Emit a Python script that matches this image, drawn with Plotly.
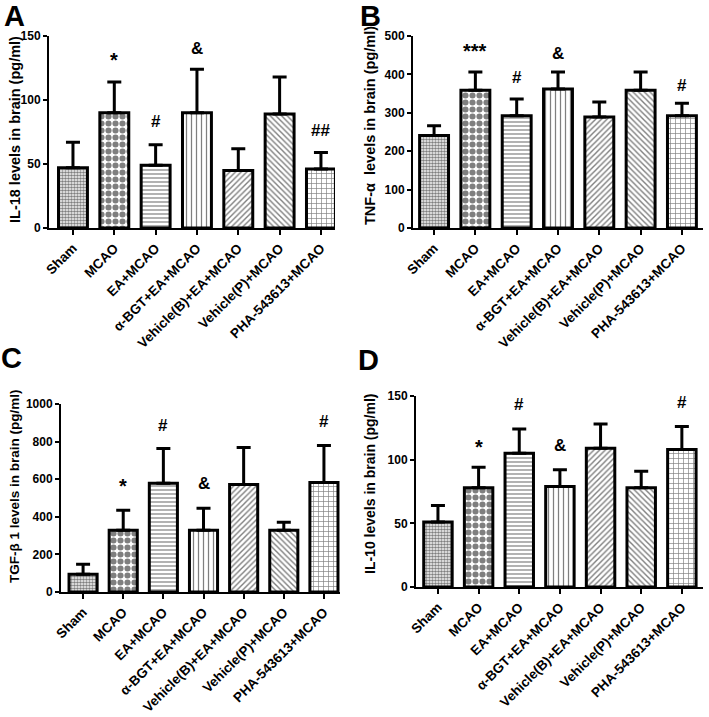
import plotly.graph_objects as go

groups = ["Sham", "MCAO", "EA+MCAO", "α-BGT+EA+MCAO", "Vehicle(B)+EA+MCAO",
          "Vehicle(P)+MCAO", "PHA-543613+MCAO"]

# mean and SD per group
il18_mean = [47, 90, 49, 90, 45, 89, 46]
il18_sd = [20, 24, 16, 34, 17, 29, 13]
tnf_mean = [241, 359, 292, 362, 289, 359, 292]
tnf_sd = [25, 47, 44, 44, 39, 47, 33]
tgf_mean = [95, 329, 578, 329, 572, 329, 583]
tgf_sd = [53, 106, 185, 116, 196, 42, 196]
il10_mean = [51, 78, 105, 79, 109, 78, 108]
il10_sd = [13, 16, 19, 13, 19, 13, 18]

# significance marks: (group index, label, y)
il18_marks = [(1, "*", 131), (2, "#", 83), (3, "&", 140), (6, "##", 76)]
tnf_marks = [(1, "***", 461), (2, "#", 393), (3, "&", 455), (6, "#", 372)]
tgf_marks = [(1, "*", 562), (2, "#", 885), (3, "&", 578), (6, "#", 906)]
il10_marks = [(1, "*", 110), (2, "#", 143), (3, "&", 111), (6, "#", 145)]

# pattern per group (shape, size, solidity)
patterns = [(".", 3, 0.6), (".", 7, 0.6), ("-", 4, 0.3), ("|", 5, 0.25),
            ("/", 4, 0.35), ("\\", 4, 0.35), ("+", 5, 0.25)]

W, H = 709, 717
FONT = "Liberation Sans"


def b(s):
    return "<b>" + str(s) + "</b>"


def px(x):
    return x / W


def py(y):
    return 1 - y / H


panels = [
    dict(letter="A", mean=il18_mean, sd=il18_sd, marks=il18_marks,
         title="IL-18 levels in brain (pg/ml)", tsize=14.5, ymax=150, dtick=50,
         xdom=(49, 335), ydom=(36, 228), xr=(-0.58, 6.34), tx=15, ty=130,
         lx=14, ly=16),
    dict(letter="B", mean=tnf_mean, sd=tnf_sd, marks=tnf_marks,
         title="TNF-α  levels in brain (pg/ml)", tsize=14.5, ymax=500, dtick=100,
         xdom=(413, 703), ydom=(36, 228), xr=(-0.51, 6.51), tx=370, ty=126,
         lx=370, ly=16),
    dict(letter="C", mean=tgf_mean, sd=tgf_sd, marks=tgf_marks,
         title="TGF-β 1 levels in brain (pg/ml)", tsize=13.5, ymax=1000, dtick=200,
         xdom=(61, 340), ydom=(404, 592), xr=(-0.55, 6.4), tx=14, ty=486,
         lx=11, ly=358),
    dict(letter="D", mean=il10_mean, sd=il10_sd, marks=il10_marks,
         title="IL-10 levels in brain (pg/ml)", tsize=14, ymax=150, dtick=50,
         xdom=(416, 703), ydom=(396, 587), xr=(-0.54, 6.52), tx=370, ty=484,
         lx=368, ly=360),
]

fig = go.Figure()
annotations = []
layout = {}

for i, p in enumerate(panels):
    n = "" if i == 0 else str(i + 1)
    xa, ya = "x" + n, "y" + n
    for j, g in enumerate(groups):
        shape, size, sol = patterns[j]
        fig.add_trace(go.Bar(
            x=[g], y=[p["mean"][j]],
            xaxis=xa, yaxis=ya,
            width=0.7,
            marker=dict(color="white",
                        line=dict(color="black", width=3),
                        pattern=dict(shape=shape, size=size, solidity=sol,
                                     fgcolor="black", bgcolor="white",
                                     fillmode="overlay")),
            error_y=dict(type="data", array=[p["sd"][j]], arrayminus=[0],
                         symmetric=False, color="black", thickness=3, width=7),
            showlegend=False,
        ))
    yticks = list(range(0, p["ymax"] + 1, p["dtick"]))
    layout["xaxis" + n] = dict(
        domain=[px(p["xdom"][0]), px(p["xdom"][1])],
        anchor=ya, type="category", range=list(p["xr"]), automargin=False,
        tickvals=groups, ticktext=[b(g) for g in groups],
        showline=True, linecolor="black", linewidth=2,
        ticks="outside", ticklen=5, tickwidth=2, tickcolor="black",
        tickangle=-45, showgrid=False,
        tickfont=dict(family=FONT, size=13.5, color="black"),
    )
    layout["yaxis" + n] = dict(
        domain=[py(p["ydom"][1]), py(p["ydom"][0])],
        anchor=xa, range=[0, p["ymax"]], automargin=False,
        tickvals=yticks, ticktext=[b(v) for v in yticks],
        showline=True, linecolor="black", linewidth=2,
        ticks="outside", ticklen=4, tickwidth=2, tickcolor="black",
        showgrid=False, zeroline=False,
        tickfont=dict(family=FONT, size=12, color="black"),
    )
    for k, lab, yv in p["marks"]:
        size = 20 if lab.startswith("*") else 17
        annotations.append(dict(
            x=groups[k], y=yv, xref=xa, yref=ya, text=b(lab), showarrow=False,
            font=dict(family=FONT, size=size, color="black")))
    annotations.append(dict(
        x=px(p["tx"]), y=py(p["ty"]), xref="paper", yref="paper",
        text=b(p["title"]), textangle=-90, showarrow=False,
        xanchor="center", yanchor="middle",
        font=dict(family=FONT, size=p["tsize"], color="black")))
    annotations.append(dict(
        x=px(p["lx"]), y=py(p["ly"]), xref="paper", yref="paper",
        text=b(p["letter"]), showarrow=False,
        xanchor="center", yanchor="middle",
        font=dict(family=FONT, size=29, color="black")))

fig.update_layout(
    width=W, height=H,
    margin=dict(l=0, r=0, t=0, b=0),
    paper_bgcolor="white", plot_bgcolor="white",
    annotations=annotations,
    **layout,
)

# drop the browser's default 8px body margin so the figure sits at 0,0
fig.write_html("out.html", config={"displayModeBar": False},
               post_script="document.body.style.margin = '0px';")
